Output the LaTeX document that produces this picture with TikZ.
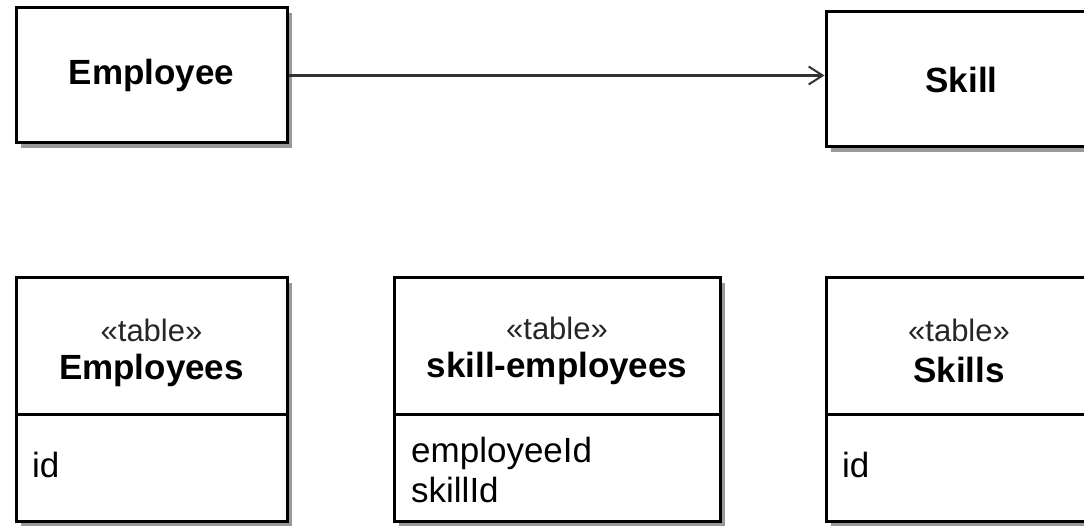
\documentclass[tikz,border=0pt]{standalone}
\usepackage{fontspec}
\setmainfont{Liberation Sans}
\usetikzlibrary{arrows.meta, shadows}

\tikzset{
    umlbox/.style={draw, line width=3pt, fill=white, rectangle,
        minimum width=271pt, inner sep=0pt,
        drop shadow={shadow xshift=5pt, shadow yshift=-5pt, fill=black, opacity=0.4}},
    classbox/.style={umlbox, minimum height=135pt},
    tablebox/.style={umlbox, minimum height=243pt},
    title/.style={font=\fontsize{35}{40}\selectfont\bfseries},
    stereo/.style={font=\fontsize{31}{36}\selectfont, text=black!85},
    field/.style={font=\fontsize{35}{37}\selectfont, align=left, anchor=west, inner sep=0pt}
}

\begin{document}
\begin{tikzpicture}[x=1pt, y=-1pt]
    \useasboundingbox (0,0) rectangle (1084,526);
    \clip (0,0) rectangle (1084,526);

    % Classes
    \node[classbox] (employee) at (151.5, 75.5) {};
    \node[title] (employeelbl) at (employee) {Employee};
    \node[classbox] (skill) at (961.5, 79.5) {};
    \node[title] (skilllbl) at (skill) {Skill};

    % Association
    \draw[-{Straight Barb[length=14pt, width=18pt, line width=2pt]}, line width=2.5pt, black!80]
        (employee.east) -- (employee.east -| skill.west);

    % Tables
    \node[tablebox] (employees) at (151.5, 399.5) {};
    \node[tablebox, minimum width=326pt] (skillemployees) at (557, 399.5) {};
    \node[tablebox] (skills) at (961.5, 399.5) {};

    \draw[line width=3pt] (employees.west |- 0,414) -- (employees.east |- 0,414);
    \draw[line width=3pt] (skillemployees.west |- 0,414) -- (skillemployees.east |- 0,414);
    \draw[line width=3pt] (skills.west |- 0,414) -- (skills.east |- 0,414);

    % Headers
    \node[stereo] (employeesst) at (151.5, 330) {«table»};
    \node[title] (employeesname) at (151.5, 370) {Employees};
    \node[stereo] (skillemployeesst) at (557, 328) {«table»};
    \node[title] (skillemployeesname) at (557, 368) {skill-employees};
    \node[stereo] (skillsst) at (959, 330) {«table»};
    \node[title] (skillsname) at (959, 370) {Skills};

    % Fields
    \node[field] (employeesid) at (32, 465) {id};
    \node[field] (employeeid) at (411, 453) {employeeId};
    \node[field] (skillid) at (411, 490) {skillId};
    \node[field] (skillsid) at (842, 465) {id};
\end{tikzpicture}
\end{document}
